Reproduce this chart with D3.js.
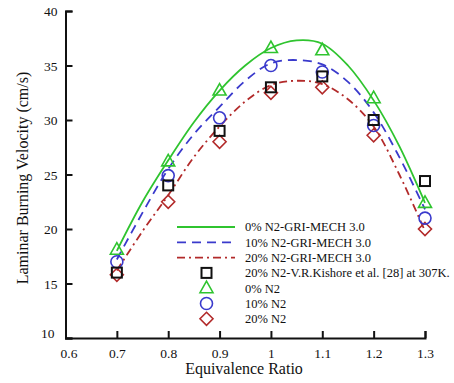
<!DOCTYPE html>
<html>
<head>
<meta charset="utf-8">
<script src="https://cdn.jsdelivr.net/npm/d3@7"></script>
<style>
  html, body { margin: 0; padding: 0; background: #fff; }
</style>
</head>
<body>
<svg id="chart" width="454" height="383"></svg>
<script>
// Equivalence ratios of the measured points
const phi = [0.7, 0.8, 0.9, 1.0, 1.1, 1.2, 1.3];

// Measured laminar burning velocities (cm/s)
const kishore20 = [16.0, 24.0, 29.0, 33.0, 34.0, 30.0, 24.4];
const exp0 = [18.1, 26.2, 32.7, 36.6, 36.4, 32.0, 22.4];
const exp10 = [17.0, 24.9, 30.2, 35.0, 34.4, 29.5, 21.0];
const exp20 = [15.8, 22.5, 28.0, 32.5, 33.0, 28.6, 20.0];

// GRI-MECH 3.0 predictions
const phiModel = [0.7, 0.75, 0.8, 0.85, 0.9, 0.95, 1.0, 1.05, 1.1, 1.15, 1.2, 1.25, 1.3];
const gri0 = [18.0, 22.5, 26.3, 29.8, 32.7, 35.0, 36.6, 37.3, 37.0, 35.0, 31.8, 27.6, 22.4];
const gri10 = [17.2, 21.5, 25.5, 28.7, 31.2, 33.6, 35.2, 35.5, 35.1, 33.5, 30.7, 26.6, 21.8];
const gri20 = [16.2, 19.8, 23.1, 26.6, 29.4, 31.7, 33.2, 33.6, 33.3, 31.9, 29.4, 25.0, 19.8];

const xTicks = [0.6, 0.7, 0.8, 0.9, 1.0, 1.1, 1.2, 1.3];
const yTicks = [10, 15, 20, 25, 30, 35, 40];

const GREEN = "#2fc42f", BLUE = "#3a3acc", RED = "#b22a2a", BLACK = "#111";
const SERIF = "'Liberation Serif', 'Times New Roman', Tinos, 'DejaVu Serif', serif";

const svg = d3.select("#chart");
const x = d3.scaleLinear().domain([0.6, 1.3]).range([65.5, 425]);
const y = d3.scaleLinear().domain([10, 40]).range([338, 11]);

// Axes with inward ticks
const xAxis = d3.axisBottom(x).tickValues(xTicks).tickSize(-7).tickPadding(10)
  .tickFormat(d => String(+d.toFixed(1)));
const yAxis = d3.axisLeft(y).tickValues(yTicks).tickSize(-7).tickPadding(8);

const gx = svg.append("g").attr("transform", `translate(0,${y(10)})`).call(xAxis);
const gy = svg.append("g").attr("transform", `translate(${x(0.6)},0)`).call(yAxis);
[gx, gy].forEach(g => {
  g.attr("font-family", SERIF).attr("font-size", 13.5);
  g.select(".domain").attr("stroke", BLACK).attr("stroke-width", 2);
  g.selectAll(".tick line").attr("stroke", BLACK).attr("stroke-width", 2);
  g.selectAll(".tick text").attr("fill", "#111");
});
gy.selectAll(".tick text").attr("dy", "0.35em");
gy.selectAll(".tick").filter(d => d === 10).select("text").attr("dy", "-0.05em").attr("dx", "-3");
gx.selectAll(".tick").filter(d => d === 0.6).select("text").attr("dx", "3");

// Axis titles
svg.append("text").attr("x", 244).attr("y", 374).attr("text-anchor", "middle")
  .attr("font-family", SERIF).attr("font-size", 16).attr("fill", "#111").text("Equivalence Ratio");
svg.append("text").attr("transform", "translate(28,178) rotate(-90)").attr("text-anchor", "middle")
  .attr("font-family", SERIF).attr("font-size", 16).attr("fill", "#111").text("Laminar Burning Velocity (cm/s)");

// Model curves
const line = d3.line().x(d => x(d[0])).y(d => y(d[1])).curve(d3.curveCatmullRom.alpha(0.5));
const curves = [
  { v: gri0, color: GREEN, dash: null, label: "0% N2-GRI-MECH 3.0" },
  { v: gri10, color: BLUE, dash: "9,6", label: "10% N2-GRI-MECH 3.0" },
  { v: gri20, color: RED, dash: "8,4,2,4", label: "20% N2-GRI-MECH 3.0" }
];
curves.forEach(c => {
  svg.append("path").datum(phiModel.map((p, i) => [p, c.v[i]]))
    .attr("d", line).attr("fill", "none").attr("stroke", c.color)
    .attr("stroke-width", 1.8).attr("stroke-dasharray", c.dash);
});

// Marker shapes
function marker(g, type, cx, cy, color) {
  const s = g.append("g").attr("transform", `translate(${cx},${cy})`);
  if (type === "square") {
    s.append("rect").attr("x", -5).attr("y", -5).attr("width", 10).attr("height", 10)
      .attr("fill", "none").attr("stroke", color).attr("stroke-width", 2);
  } else if (type === "triangle") {
    s.append("path").attr("d", "M0,-7L6.5,4.5L-6.5,4.5Z")
      .attr("fill", "none").attr("stroke", color).attr("stroke-width", 1.6);
  } else if (type === "circle") {
    s.append("circle").attr("r", 6).attr("fill", "none").attr("stroke", color).attr("stroke-width", 1.6);
  } else {
    s.append("path").attr("d", "M0,-6.5L6.5,0L0,6.5L-6.5,0Z")
      .attr("fill", "none").attr("stroke", color).attr("stroke-width", 1.6);
  }
}

const points = [
  { v: exp20, type: "diamond", color: RED, label: "20% N2" },
  { v: exp10, type: "circle", color: BLUE, label: "10% N2" },
  { v: kishore20, type: "square", color: BLACK, label: "20% N2-V.R.Kishore et al. [28] at 307K." },
  { v: exp0, type: "triangle", color: GREEN, label: "0% N2" }
];
points.forEach(p => {
  const g = svg.append("g");
  phi.forEach((ph, i) => marker(g, p.type, x(ph), y(p.v[i]), p.color));
});

// Legend
const legendRows = [
  { kind: "line", item: curves[0] },
  { kind: "line", item: curves[1] },
  { kind: "line", item: curves[2] },
  { kind: "mark", item: points[2] },
  { kind: "mark", item: points[3] },
  { kind: "mark", item: points[1] },
  { kind: "mark", item: points[0] }
];
const lg = svg.append("g");
legendRows.forEach((r, i) => {
  const yy = 227 + i * 15.3;
  if (r.kind === "line") {
    lg.append("line").attr("x1", 177).attr("x2", 235).attr("y1", yy).attr("y2", yy)
      .attr("stroke", r.item.color).attr("stroke-width", 1.8).attr("stroke-dasharray", r.item.dash);
  } else {
    marker(lg, r.item.type, 206.5, yy, r.item.color);
  }
  lg.append("text").attr("x", 245).attr("y", yy).attr("dy", "0.35em")
    .attr("font-family", SERIF).attr("font-size", 12.5).attr("fill", "#111").text(r.item.label);
});
</script>
</body>
</html>
